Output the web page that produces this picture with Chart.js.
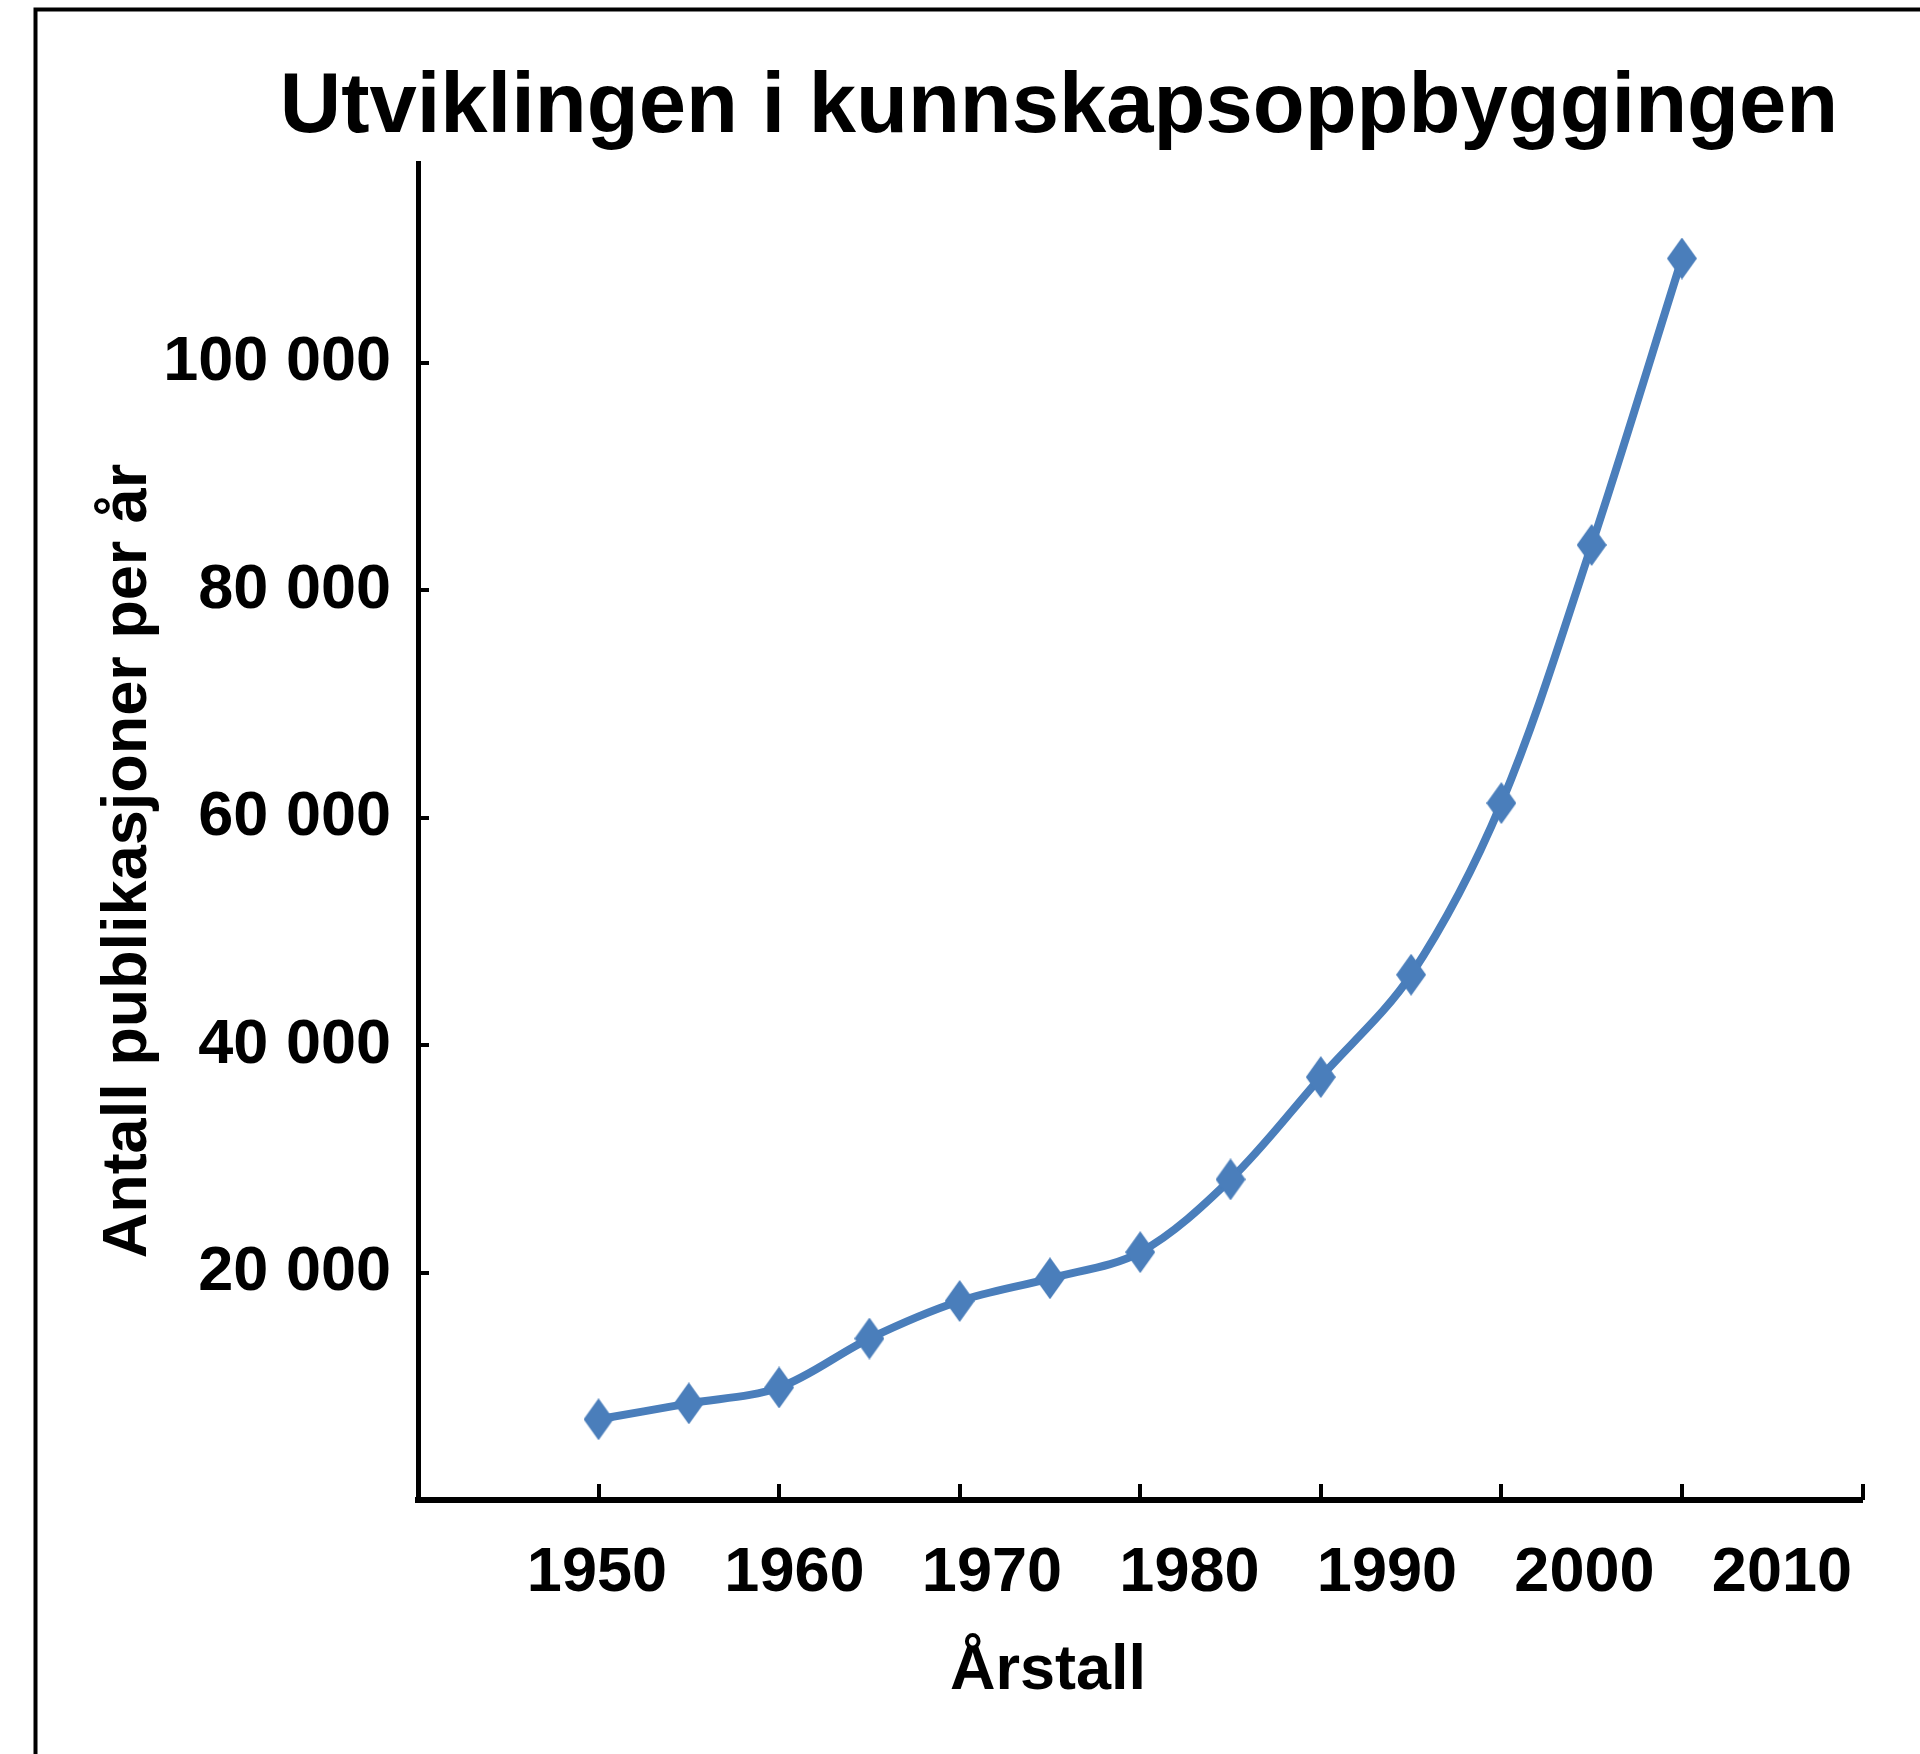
<!DOCTYPE html>
<html>
<head>
<meta charset="utf-8">
<script src="https://cdn.jsdelivr.net/npm/chart.js@4/dist/chart.umd.min.js"></script>
<style>
html,body{margin:0;padding:0;background:#fff;overflow:hidden}
#wrap{position:relative;width:1920px;height:1754px}
</style>
</head>
<body>
<div id="wrap"><canvas id="c" width="1920" height="1754"></canvas></div>
<script>
// ---- data ----
const years = [1950,1955,1960,1965,1970,1975,1980,1985,1990,1995,2000,2005,2010];
const publications = [7100,8500,9900,14200,17500,19500,21800,28200,37200,46200,61300,84000,109200];
const yTickValues = [20000,40000,60000,80000,100000];
const yTickLabels = ['20 000','40 000','60 000','80 000','100 000'];
const xTickLabels = ['1950','1960','1970','1980','1990','2000','2010'];
const chartTitle = 'Utviklingen i kunnskapsoppbyggingen';
const xTitle = 'Årstall';
const yTitle = 'Antall publikasjoner per år';

// ---- styles ----
const BLUE = '#4A7EBB';
const FONT = '"Liberation Sans", Arial, sans-serif';

function diamond(w, h, color) {
  const c = document.createElement('canvas');
  c.width = w; c.height = h;
  const g = c.getContext('2d');
  g.fillStyle = color;
  g.beginPath();
  g.moveTo(w/2, 0); g.lineTo(w, h/2); g.lineTo(w/2, h); g.lineTo(0, h/2);
  g.closePath(); g.fill();
  return c;
}
const marker = diamond(30, 42, BLUE);

const decorPlugin = {
  id: 'decor',
  beforeDraw(chart) {
    const ctx = chart.ctx;
    ctx.save();
    ctx.fillStyle = '#fff';
    ctx.fillRect(0, 0, chart.width, chart.height);
    // frame
    ctx.strokeStyle = '#000';
    ctx.lineWidth = 4;
    ctx.beginPath();
    ctx.moveTo(35.5, chart.height + 5);
    ctx.lineTo(35.5, 9.5);
    ctx.lineTo(chart.width + 5, 9.5);
    ctx.stroke();
    // titles
    ctx.fillStyle = '#000';
    ctx.textAlign = 'center';
    ctx.textBaseline = 'alphabetic';
    ctx.font = 'bold 85px ' + FONT;
    ctx.fillText(chartTitle, 1059, 132);
    ctx.font = 'bold 63px ' + FONT;
    ctx.fillText(xTitle, 1048, 1689);
    ctx.translate(146, 861);
    ctx.rotate(-Math.PI / 2);
    ctx.fillText(yTitle, 0, 0);
    ctx.restore();
  },
  afterDraw(chart) {
    const ctx = chart.ctx;
    const xs = chart.scales.x, ys = chart.scales.y;
    const area = chart.chartArea;
    ctx.save();
    ctx.strokeStyle = '#000';
    ctx.lineWidth = 4;
    ctx.beginPath();
    xs.ticks.forEach(t => {
      if (t.value <= xs.min) return;
      const px = Math.round(xs.getPixelForValue(t.value));
      ctx.moveTo(px, area.bottom);
      ctx.lineTo(px, area.bottom - 16);
    });
    ys.ticks.forEach(t => {
      const py = Math.round(ys.getPixelForValue(t.value));
      ctx.moveTo(area.left, py);
      ctx.lineTo(area.left + 11, py);
    });
    ctx.stroke();
    ctx.restore();
  }
};

new Chart(document.getElementById('c'), {
  type: 'line',
  data: {
    datasets: [{
      data: years.map((y, i) => ({x: y, y: publications[i]})),
      borderColor: BLUE,
      backgroundColor: BLUE,
      borderWidth: 8,
      tension: 0.33,
      pointStyle: marker,
      pointRadius: 15,
      clip: false
    }]
  },
  options: {
    responsive: false,
    devicePixelRatio: 1,
    animation: false,
    layout: { padding: { left: 0, top: 163, right: 57.5, bottom: 0 } },
    plugins: { legend: { display: false }, title: { display: false }, tooltip: { enabled: false } },
    scales: {
      x: {
        type: 'linear', position: 'bottom', min: 1940, max: 2020, weight: 0,
        ticks: { display: false, stepSize: 10 },
        grid: { display: false, drawTicks: false },
        border: { display: true, color: '#000', width: 6 },
        afterFit(s) { s.height = 0; }
      },
      xl: {
        type: 'linear', position: 'bottom', min: 1940.94, max: 2014.08, weight: 1,
        grid: { display: false, drawTicks: false },
        border: { display: false },
        afterBuildTicks(s) { s.ticks = xTickLabels.map(l => ({ value: Number(l) })); },
        ticks: {
          autoSkip: false, maxRotation: 0, padding: 36, color: '#000',
          font: { family: FONT, size: 63, weight: 'bold' },
          callback: (v, i) => xTickLabels[i]
        },
        afterFit(s) { s.height = 254; }
      },
      y: {
        type: 'linear', position: 'left', min: 0, max: 117600,
        grid: { display: false, drawTicks: false },
        border: { display: true, color: '#000', width: 5 },
        afterBuildTicks(s) { s.ticks = yTickValues.map(v => ({ value: v })); },
        ticks: {
          padding: 27, color: '#000',
          font: { family: FONT, size: 63, weight: 'bold' },
          callback: (v, i) => yTickLabels[i]
        },
        afterFit(s) { s.width = 418; }
      }
    }
  },
  plugins: [decorPlugin]
});
</script>
</body>
</html>
